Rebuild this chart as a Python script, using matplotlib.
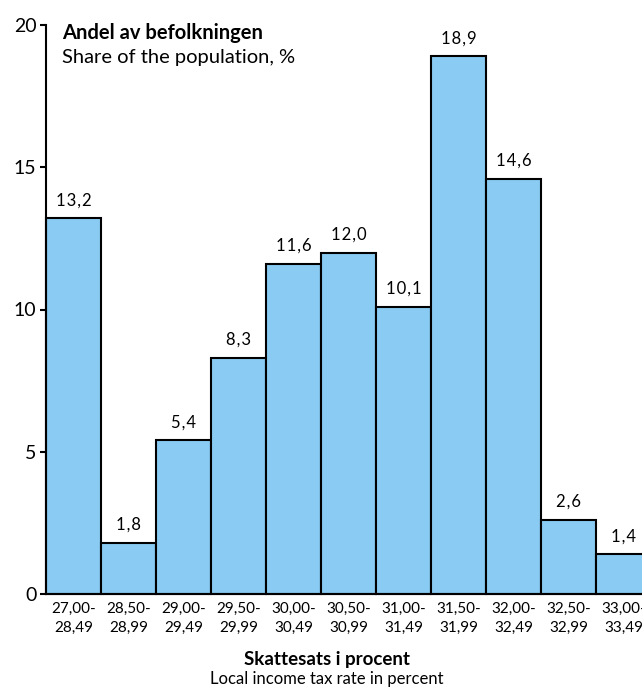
import matplotlib
matplotlib.use("Agg")
import matplotlib.pyplot as plt

categories = ["27,00-\n28,49", "28,50-\n28,99", "29,00-\n29,49", "29,50-\n29,99",
              "30,00-\n30,49", "30,50-\n30,99", "31,00-\n31,49", "31,50-\n31,99",
              "32,00-\n32,49", "32,50-\n32,99", "33,00-\n33,49"]
values = [13.2, 1.8, 5.4, 8.3, 11.6, 12.0, 10.1, 18.9, 14.6, 2.6, 1.4]
yticks = [0, 5, 10, 15, 20]

plt.rcParams['font.family'] = ['Lato', 'DejaVu Sans']

fig = plt.figure(figsize=(6.42, 6.91), dpi=100)
ax = fig.add_axes([46/642, 97/691, 605/642, 569/691])

x = list(range(len(values)))
ax.bar(x, values, width=1.0, color="#89CBF2", edgecolor="black", linewidth=1.5, clip_on=False)
for xi, v in zip(x, values):
    s = f"{v:.1f}".replace(".", ",")
    s = "\u200a".join(s)
    ax.text(xi, v + 0.35, s, ha="center", va="bottom", fontsize=12)

ax.set_xlim(-0.5, 10.5)
ax.set_ylim(0, 20)
ax.set_yticks(yticks)
ax.set_yticklabels([str(t) for t in yticks], fontsize=14)
ax.set_xticks(x)
ax.set_xticklabels(categories, fontsize=11, linespacing=1.45)
ax.tick_params(axis="x", length=0, pad=6)
ax.tick_params(axis="y", length=4, width=1.5, pad=3)
for s in ["top", "right"]:
    ax.spines[s].set_visible(False)
ax.spines["left"].set_linewidth(1.5)
ax.spines["bottom"].set_linewidth(1.5)

fig.text(62/642, 1 - 33/691, "Andel av befolkningen", fontsize=14.5, fontweight="bold", ha="left", va="center")
fig.text(62/642, 1 - 58/691, "Share of the population, %", fontsize=14.5, ha="left", va="center")

fig.text(327/642, 1 - 659/691, "Skattesats i procent", fontsize=13.5, fontweight="bold", ha="center", va="center")
fig.text(327/642, 1 - 679/691, "Local income tax rate in percent", fontsize=12, ha="center", va="center")

fig.savefig("out.png", dpi=100)
